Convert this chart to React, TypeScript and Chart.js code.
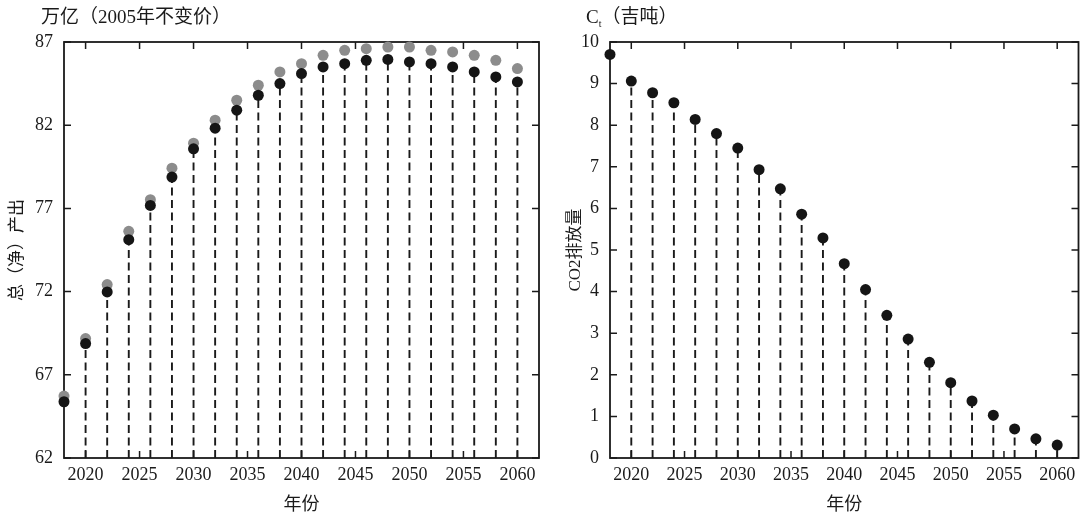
import React, { useEffect, useRef } from "react";
import { Chart, registerables } from "chart.js";

Chart.register(...registerables);

// ---------- data ----------
const years = [2018, 2020, 2022, 2024, 2026, 2028, 2030, 2032, 2034, 2036, 2038, 2040, 2042, 2044, 2046, 2048, 2050, 2052, 2054, 2056, 2058, 2060];
const netOutput = [65.38, 68.88, 71.98, 75.12, 77.18, 78.88, 80.58, 81.82, 82.9, 83.8, 84.5, 85.1, 85.5, 85.7, 85.9, 85.95, 85.8, 85.7, 85.5, 85.2, 84.9, 84.6];
const totalOutput = [65.72, 69.18, 72.42, 75.62, 77.52, 79.42, 80.92, 82.3, 83.5, 84.4, 85.2, 85.7, 86.2, 86.5, 86.6, 86.7, 86.7, 86.5, 86.4, 86.2, 85.9, 85.4];
const co2Emissions = [9.7, 9.06, 8.78, 8.54, 8.14, 7.8, 7.45, 6.93, 6.47, 5.86, 5.29, 4.67, 4.05, 3.43, 2.86, 2.3, 1.81, 1.37, 1.03, 0.7, 0.46, 0.31];
const xTickValues = [2020, 2025, 2030, 2035, 2040, 2045, 2050, 2055, 2060];
const leftYTicks = [62, 67, 72, 77, 82, 87];
const rightYTicks = [0, 1, 2, 3, 4, 5, 6, 7, 8, 9, 10];

const FONT = "'Liberation Serif', 'Times New Roman', 'Noto Sans CJK SC', serif";
const INK = "#1a1a1a";

function stemFramePlugin() {
  return {
    id: "stemFrame",
    beforeDatasetsDraw(chart: any) {
      const { ctx, chartArea: a, scales } = chart;
      ctx.save();
      ctx.strokeStyle = INK;
      ctx.lineWidth = 1.8;
      ctx.setLineDash([]);
      ctx.strokeRect(a.left, a.top, a.right - a.left, a.bottom - a.top);
      const L = 7;
      ctx.lineWidth = 1.5;
      ctx.beginPath();
      scales.x.ticks.forEach((t: any) => {
        const px = scales.x.getPixelForValue(t.value);
        ctx.moveTo(px, a.bottom);
        ctx.lineTo(px, a.bottom - L);
        ctx.moveTo(px, a.top);
        ctx.lineTo(px, a.top + L);
      });
      scales.y.ticks.forEach((t: any) => {
        const py = scales.y.getPixelForValue(t.value);
        ctx.moveTo(a.left, py);
        ctx.lineTo(a.left + L, py);
        ctx.moveTo(a.right, py);
        ctx.lineTo(a.right - L, py);
      });
      ctx.stroke();
      // dashed stems from axis up to the (first dataset) points
      const meta = chart.getDatasetMeta(0);
      ctx.setLineDash([8, 4.5]);
      ctx.lineWidth = 1.9;
      ctx.beginPath();
      meta.data.forEach((pt: any) => {
        if (pt.x <= a.left + 1) return;
        ctx.moveTo(pt.x, a.bottom);
        ctx.lineTo(pt.x, pt.y);
      });
      ctx.stroke();
      ctx.restore();
    },
  };
}

function cornerLabelPlugin(parts: { text: string; size: number; dy: number }[], x: number, y: number) {
  return {
    id: "cornerLabel",
    afterDraw(chart: any) {
      const ctx = chart.ctx;
      ctx.save();
      ctx.fillStyle = INK;
      ctx.textAlign = "left";
      ctx.textBaseline = "middle";
      let cx = x;
      parts.forEach((p) => {
        ctx.font = `${p.size}px ${FONT}`;
        ctx.fillText(p.text, cx, y + p.dy);
        cx += ctx.measureText(p.text).width;
      });
      ctx.restore();
    },
  };
}

function makeConfig(opts: {
  datasets: any[];
  yMin: number;
  yMax: number;
  yTicks: number[];
  yWidth: number;
  rightPad: number;
  yTitle: string;
  yTitlePad: number;
  plugins: any[];
}) {
  const tickFont = { family: FONT, size: 18 };
  return {
    type: "scatter" as const,
    data: { datasets: opts.datasets },
    options: {
      responsive: false,
      animation: false as const,
      devicePixelRatio: 1,
      layout: { padding: { top: 42, right: opts.rightPad, left: 0, bottom: 0 } },
      plugins: { legend: { display: false }, tooltip: { enabled: false } },
      scales: {
        x: {
          type: "linear" as const,
          min: 2018,
          max: 2062,
          afterBuildTicks: (s: any) => {
            s.ticks = xTickValues.map((v) => ({ value: v }));
          },
          afterFit: (s: any) => {
            s.height = 60;
          },
          grid: { display: false },
          border: { display: false },
          ticks: {
            font: tickFont,
            color: INK,
            padding: -2,
            maxRotation: 0,
            autoSkip: false,
            callback: (v: any) => String(v),
          },
          title: {
            display: true,
            text: "年份",
            font: { family: FONT, size: 18 },
            color: INK,
            padding: { top: 0, bottom: 2 },
          },
        },
        y: {
          type: "linear" as const,
          min: opts.yMin,
          max: opts.yMax,
          afterBuildTicks: (s: any) => {
            s.ticks = opts.yTicks.map((v) => ({ value: v }));
          },
          afterFit: (s: any) => {
            s.width = opts.yWidth;
          },
          grid: { display: false },
          border: { display: false },
          ticks: {
            font: tickFont,
            color: INK,
            padding: 3,
            autoSkip: false,
            callback: (v: any) => String(v),
          },
          title: {
            display: true,
            text: opts.yTitle,
            font: { family: FONT, size: 17 },
            color: INK,
            padding: { top: opts.yTitlePad, bottom: 0 },
          },
        },
      },
    },
    plugins: opts.plugins,
  };
}

function pts(vals: number[]) {
  return years.map((yr, i) => ({ x: yr, y: vals[i] }));
}

export default function App() {
  const leftRef = useRef<HTMLCanvasElement | null>(null);
  const rightRef = useRef<HTMLCanvasElement | null>(null);

  useEffect(() => {
    const left = new Chart(
      leftRef.current as HTMLCanvasElement,
      makeConfig({
        datasets: [
          { data: pts(netOutput), backgroundColor: "#151515", pointRadius: 5.5, pointHoverRadius: 5.5, borderWidth: 0, clip: false },
          { data: pts(totalOutput), backgroundColor: "#8c8c8c", pointRadius: 5.5, pointHoverRadius: 5.5, borderWidth: 0, clip: false },
        ],
        yMin: 62,
        yMax: 87,
        yTicks: leftYTicks,
        yWidth: 64,
        rightPad: 11,
        yTitle: "总（净）产出",
        yTitlePad: 7,
        plugins: [stemFramePlugin(), cornerLabelPlugin([{ text: "万亿（2005年不变价）", size: 19, dy: 0 }], 41, 18)],
      }) as any
    );
    const right = new Chart(
      rightRef.current as HTMLCanvasElement,
      makeConfig({
        datasets: [
          { data: pts(co2Emissions), backgroundColor: "#151515", pointRadius: 5.5, pointHoverRadius: 5.5, borderWidth: 0, clip: false },
        ],
        yMin: 0,
        yMax: 10,
        yTicks: rightYTicks,
        yWidth: 60,
        rightPad: 1,
        yTitle: "CO2排放量",
        yTitlePad: 15,
        plugins: [
          stemFramePlugin(),
          cornerLabelPlugin(
            [
              { text: "C", size: 19, dy: 0 },
              { text: "t", size: 10, dy: 6 },
              { text: "（吉吨）", size: 19, dy: 0 },
            ],
            36,
            18
          ),
        ],
      }) as any
    );
    return () => {
      left.destroy();
      right.destroy();
    };
  }, []);

  return (
    <div style={{ position: "absolute", left: 0, top: 0, width: 1084, height: 518, background: "#fff" }}>
      <canvas ref={leftRef} width={550} height={518} style={{ position: "absolute", left: 0, top: 0, width: 550, height: 518 }} />
      <canvas ref={rightRef} width={534} height={518} style={{ position: "absolute", left: 550, top: 0, width: 534, height: 518 }} />
    </div>
  );
}
